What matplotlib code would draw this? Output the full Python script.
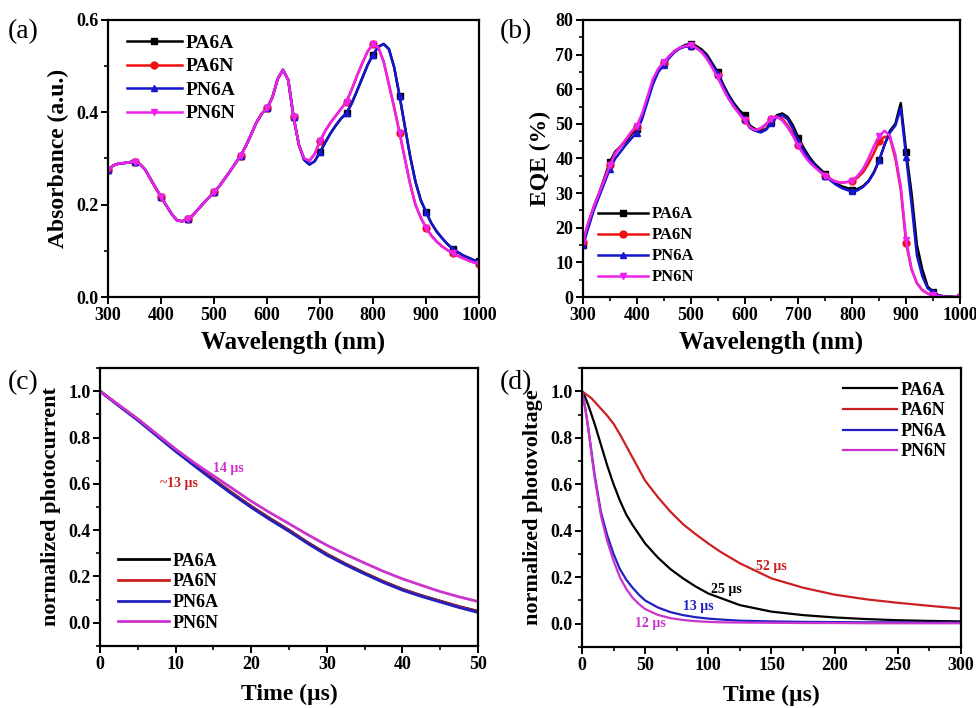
import numpy as np
import matplotlib
matplotlib.use("Agg")
import matplotlib.pyplot as plt
from matplotlib.ticker import MultipleLocator

plt.rcParams['font.family'] = ['Liberation Serif', 'DejaVu Serif']
plt.rcParams['font.weight'] = 'bold'
plt.rcParams['axes.linewidth'] = 1.6

names = ["PA6A", "PA6N", "PN6A", "PN6N"]

# ---- (a) absorbance, every 10 nm ----
wl = list(range(300, 1001, 10))
abs_start = [0.275, 0.285, 0.289, 0.290, 0.292, 0.293, 0.288, 0.276, 0.256, 0.236,
             0.217, 0.198, 0.180, 0.166, 0.164, 0.168, 0.177, 0.190, 0.203, 0.215,
             0.227, 0.240, 0.256, 0.272, 0.289, 0.306, 0.327, 0.352, 0.378, 0.397,
             0.409, 0.432, 0.472, 0.492, 0.470, 0.390, 0.330]
abs_tail_a = [0.297, 0.287, 0.294, 0.314, 0.335, 0.355, 0.372, 0.387, 0.398, 0.420,
              0.447, 0.475, 0.503, 0.525, 0.542, 0.548, 0.537, 0.497, 0.436, 0.370,
              0.305, 0.250, 0.210, 0.184, 0.160, 0.142, 0.128, 0.115, 0.105, 0.097,
              0.090, 0.085, 0.080, 0.077]
abs_tail_n = [0.300, 0.295, 0.310, 0.338, 0.360, 0.378, 0.393, 0.408, 0.423, 0.450,
              0.480, 0.507, 0.532, 0.548, 0.540, 0.510, 0.460, 0.410, 0.356, 0.300,
              0.245, 0.200, 0.172, 0.150, 0.133, 0.120, 0.110, 0.102, 0.095, 0.089,
              0.084, 0.079, 0.075, 0.072]
abs_pa6a = abs_start + abs_tail_a
abs_pn6a = abs_start + abs_tail_a
abs_pa6n = abs_start + abs_tail_n
abs_pn6n = abs_start + abs_tail_n

# ---- (b) EQE, every 10 nm ----
eqe_pa6a = [15, 21, 26, 30, 34.5, 39, 42, 43.5, 45, 47, 48.5, 52, 57, 62, 65.5, 67.5, 69.5, 71, 72, 72.8,
            73, 72.5, 71.5, 70, 67.5, 65, 61.5, 58.5, 56, 54, 52.5, 49.5, 48.5, 48, 48.5, 50.5, 52.5, 53,
            52, 49.5, 46, 43, 40.5, 38.5, 37, 35.5, 34, 32.8, 32, 31.5, 31, 31.2, 32, 33.5, 36, 39.5, 44,
            48, 50, 56, 42, 30, 15, 8, 3, 1.5, 0.5, 0.2, 0.1, 0, 0]
eqe_pn6a = [15, 20, 25, 29, 33, 37, 40, 42, 44, 45.8, 47.5, 51.5, 56.5, 61.5, 65, 67, 69, 70.7, 71.8, 72.3,
            72.5, 72, 71, 69.5, 67, 64.5, 61, 58, 55.5, 53.3, 51.5, 48.8, 48, 47.5, 48.3, 50.3, 52, 52.5,
            51.3, 48.5, 45, 42.2, 40, 38, 36.5, 35, 33.6, 32.4, 31.5, 30.9, 30.5, 30.8, 31.8, 33.3, 35.8,
            39.5, 44, 47.5, 49.5, 54.5, 40.5, 27, 12, 6, 2.5, 1.5, 0.5, 0.2, 0.1, 0, 0]
eqe_pa6n = [16, 21.5, 26, 30, 34, 38, 41.5, 43.5, 45.5, 47.5, 49, 52.5, 57.5, 62.5, 65.5, 67.5, 69.3, 70.8,
            71.8, 72.4, 72.5, 72, 70.8, 69, 66.5, 64, 60.5, 57.5, 55, 53, 51, 49, 48, 48.5, 49.8, 51.5,
            52.2, 51.5, 49.5, 47, 44, 41.5, 39.5, 37.8, 36.3, 35, 34, 33.3, 33, 33.2, 33.5, 34.5, 36, 38.5,
            41.5, 45, 46.3, 46, 40, 31, 15.5, 8, 4, 2, 1, 0.5, 0.3, 0.1, 0, 0, 0]
eqe_pn6n = [16, 21.5, 26, 30, 34, 38, 41.5, 43.5, 45.5, 47.8, 49.5, 53, 58, 63, 66, 67.8, 69.5, 71, 72,
            72.5, 72.7, 72, 70.8, 68.8, 66.2, 63.5, 60.2, 57.3, 55, 53, 51, 49, 48.2, 48.8, 50, 51.5,
            52, 51, 49, 46.5, 43.5, 41, 39, 37.5, 36.2, 35, 34, 33.3, 33, 33.2, 33.6, 35, 37, 40,
            43.5, 46.5, 48, 46.5, 41, 32, 16.5, 8, 4, 2, 1, 0.5, 0.3, 0.1, 0, 0, 0]

# ---- (c) transient photocurrent ----
t_c = [0, 2.5, 5, 7.5, 10, 12.5, 15, 17.5, 20, 22.5, 25, 27.5, 30, 32.5, 35, 37.5, 40, 42.5, 45, 47.5, 50]
tpc_pa6a = [1.0, 0.938, 0.878, 0.812, 0.745, 0.682, 0.620, 0.560, 0.503, 0.450, 0.400, 0.346, 0.297,
            0.254, 0.215, 0.178, 0.145, 0.118, 0.094, 0.070, 0.050]
tpc_pa6n = [1.0, 0.938, 0.877, 0.811, 0.744, 0.681, 0.619, 0.559, 0.502, 0.449, 0.399, 0.345, 0.296,
            0.253, 0.214, 0.177, 0.144, 0.117, 0.093, 0.069, 0.048]
tpc_pn6a = [1.0, 0.936, 0.874, 0.807, 0.740, 0.677, 0.615, 0.555, 0.498, 0.445, 0.395, 0.342, 0.292,
            0.250, 0.211, 0.174, 0.141, 0.114, 0.090, 0.066, 0.045]
tpc_pn6n = [1.0, 0.940, 0.880, 0.815, 0.750, 0.690, 0.635, 0.580, 0.525, 0.475, 0.428, 0.380, 0.335,
            0.295, 0.258, 0.222, 0.190, 0.162, 0.135, 0.112, 0.092]

# ---- (d) transient photovoltage ----
t_d = [0, 2.5, 5, 7.5, 10, 15, 20, 25, 30, 35, 40, 45, 50, 60, 70, 80, 90, 100, 110, 125,
       150, 175, 200, 225, 250, 275, 300]
tpv_pa6a = [1.0, 0.975, 0.94, 0.90, 0.86, 0.77, 0.68, 0.60, 0.53, 0.47, 0.425, 0.385, 0.345, 0.285,
            0.235, 0.195, 0.16, 0.13, 0.11, 0.08, 0.052, 0.037, 0.027, 0.02, 0.015, 0.012, 0.01]
tpv_pa6n = [1.0, 0.99, 0.98, 0.97, 0.955, 0.925, 0.895, 0.86, 0.815, 0.765, 0.715, 0.665, 0.615, 0.545,
            0.482, 0.428, 0.385, 0.345, 0.308, 0.26, 0.195, 0.155, 0.125, 0.105, 0.09, 0.077, 0.065]
tpv_pn6a = [1.0, 0.93, 0.84, 0.74, 0.64, 0.48, 0.38, 0.30, 0.235, 0.19, 0.155, 0.125, 0.10, 0.07,
            0.05, 0.037, 0.028, 0.022, 0.018, 0.013, 0.01, 0.008, 0.007, 0.006, 0.006, 0.005, 0.005]
tpv_pn6n = [1.0, 0.93, 0.84, 0.73, 0.63, 0.465, 0.355, 0.27, 0.20, 0.15, 0.112, 0.085, 0.063, 0.038,
            0.024, 0.016, 0.011, 0.008, 0.006, 0.005, 0.004, 0.003, 0.003, 0.002, 0.002, 0.002, 0.002]

cols_top = ['#000000', '#ee1111', '#1515d0', '#ee22ee']
cols_bot = ['#000000', '#cc2020', '#2020c0', '#cc33cc']
markers = ['s', 'o', '^', 'v']

fig = plt.figure(figsize=(9.76, 7.08), dpi=100)
ax_a = fig.add_axes([0.1107, 0.5805, 0.3801, 0.3913])
ax_b = fig.add_axes([0.5973, 0.5805, 0.3863, 0.3913])
ax_c = fig.add_axes([0.1025, 0.0876, 0.3873, 0.3926])
ax_d = fig.add_axes([0.5963, 0.0862, 0.3883, 0.3940])


def style(ax):
    ax.tick_params(which='major', direction='out', length=5, width=1.4, labelsize=13, pad=2)
    ax.tick_params(which='minor', direction='out', length=3, width=1.2)
    for lab in ax.get_xticklabels() + ax.get_yticklabels():
        lab.set_fontweight('bold')


for y, c, m, n in zip([abs_pa6a, abs_pa6n, abs_pn6a, abs_pn6n], cols_top, markers, names):
    ax_a.plot(wl, y, color=c, lw=1.8, marker=m, ms=5, markevery=5, label=n)
ax_a.set_xlim(300, 1000)
ax_a.set_ylim(0, 0.6)
ax_a.xaxis.set_major_locator(MultipleLocator(100))
ax_a.yaxis.set_major_locator(MultipleLocator(0.2))
ax_a.yaxis.set_minor_locator(MultipleLocator(0.1))
ax_a.set_xlabel('Wavelength (nm)', fontsize=18, fontweight='bold', labelpad=5)
ax_a.set_ylabel('Absorbance (a.u.)', fontsize=17, fontweight='bold', labelpad=5)
ax_a.legend(loc='upper left', bbox_to_anchor=(0.02, 0.99), frameon=False, fontsize=14,
            handlelength=2.8, labelspacing=0.3, handletextpad=0.2, borderaxespad=0.2)

for y, c, m, n in zip([eqe_pa6a, eqe_pa6n, eqe_pn6a, eqe_pn6n], cols_top, markers, names):
    ax_b.plot(wl, y, color=c, lw=1.8, marker=m, ms=5, markevery=5, label=n)
ax_b.set_xlim(300, 1000)
ax_b.set_ylim(0, 80)
ax_b.xaxis.set_major_locator(MultipleLocator(100))
ax_b.xaxis.set_minor_locator(MultipleLocator(50))
ax_b.yaxis.set_major_locator(MultipleLocator(10))
ax_b.yaxis.set_minor_locator(MultipleLocator(5))
ax_b.set_xlabel('Wavelength (nm)', fontsize=18, fontweight='bold', labelpad=5)
ax_b.set_ylabel('EQE (%)', fontsize=17, fontweight='bold', labelpad=3)
ax_b.legend(loc='lower left', bbox_to_anchor=(0.01, 0.0), frameon=False, fontsize=12,
            handlelength=3.0, labelspacing=0.3, handletextpad=0.2, borderaxespad=0.3)

for y, c, n in zip([tpc_pa6a, tpc_pa6n, tpc_pn6a, tpc_pn6n], cols_bot, names):
    ax_c.plot(t_c, y, color=c, lw=2, label=n)
ax_c.set_xlim(0, 50)
ax_c.set_ylim(-0.1, 1.1)
ax_c.xaxis.set_major_locator(MultipleLocator(10))
ax_c.xaxis.set_minor_locator(MultipleLocator(5))
ax_c.yaxis.set_minor_locator(MultipleLocator(0.1))
ax_c.set_yticks([0, 0.2, 0.4, 0.6, 0.8, 1.0])
ax_c.set_xlabel('Time (\u00b5s)', fontsize=17, fontweight='bold', labelpad=8)
ax_c.set_ylabel('normalized photocurrent', fontsize=16, fontweight='bold', labelpad=5)
ax_c.legend(loc='lower left', bbox_to_anchor=(0.01, 0.0), frameon=False, fontsize=13,
            handlelength=2.8, labelspacing=0.2, handletextpad=0.2, borderaxespad=0.4)
ax_c.text(10.5, 0.6, '~13 \u00b5s', color='#cc2020', fontsize=10, fontweight='bold', ha='center', va='center')
ax_c.text(17, 0.665, '14 \u00b5s', color='#cc33cc', fontsize=10, fontweight='bold', ha='center', va='center')

for y, c, n in zip([tpv_pa6a, tpv_pa6n, tpv_pn6a, tpv_pn6n], cols_bot, names):
    ax_d.plot(t_d, y, color=c, lw=1.6, label=n)
ax_d.set_xlim(0, 300)
ax_d.set_ylim(-0.1, 1.1)
ax_d.xaxis.set_major_locator(MultipleLocator(50))
ax_d.xaxis.set_minor_locator(MultipleLocator(25))
ax_d.yaxis.set_minor_locator(MultipleLocator(0.1))
ax_d.set_yticks([0, 0.2, 0.4, 0.6, 0.8, 1.0])
ax_d.set_xlabel('Time (\u00b5s)', fontsize=17, fontweight='bold', labelpad=8)
ax_d.set_ylabel('normalized photovoltage', fontsize=16, fontweight='bold', labelpad=5)
ax_d.legend(loc='upper right', bbox_to_anchor=(0.99, 0.99), frameon=False, fontsize=13,
            handlelength=3.0, labelspacing=0.2, handletextpad=0.2, borderaxespad=0.2)
ax_d.text(150, 0.245, '52 \u00b5s', color='#cc2020', fontsize=10, fontweight='bold', ha='center', va='center')
ax_d.text(114, 0.148, '25 \u00b5s', color='#000000', fontsize=10, fontweight='bold', ha='center', va='center')
ax_d.text(92, 0.075, '13 \u00b5s', color='#2020c0', fontsize=10, fontweight='bold', ha='center', va='center')
ax_d.text(54, 0.0, '12 \u00b5s', color='#cc33cc', fontsize=10, fontweight='bold', ha='center', va='center')

for ax in [ax_a, ax_b, ax_c, ax_d]:
    style(ax)

for lbl, x, y in [('(a)', 0.008, 0.955), ('(b)', 0.512, 0.955), ('(c)', 0.008, 0.46), ('(d)', 0.512, 0.46)]:
    fig.text(x, y, lbl, fontsize=20, fontweight='normal', ha='left', va='center')

fig.savefig('out.png', dpi=100)
